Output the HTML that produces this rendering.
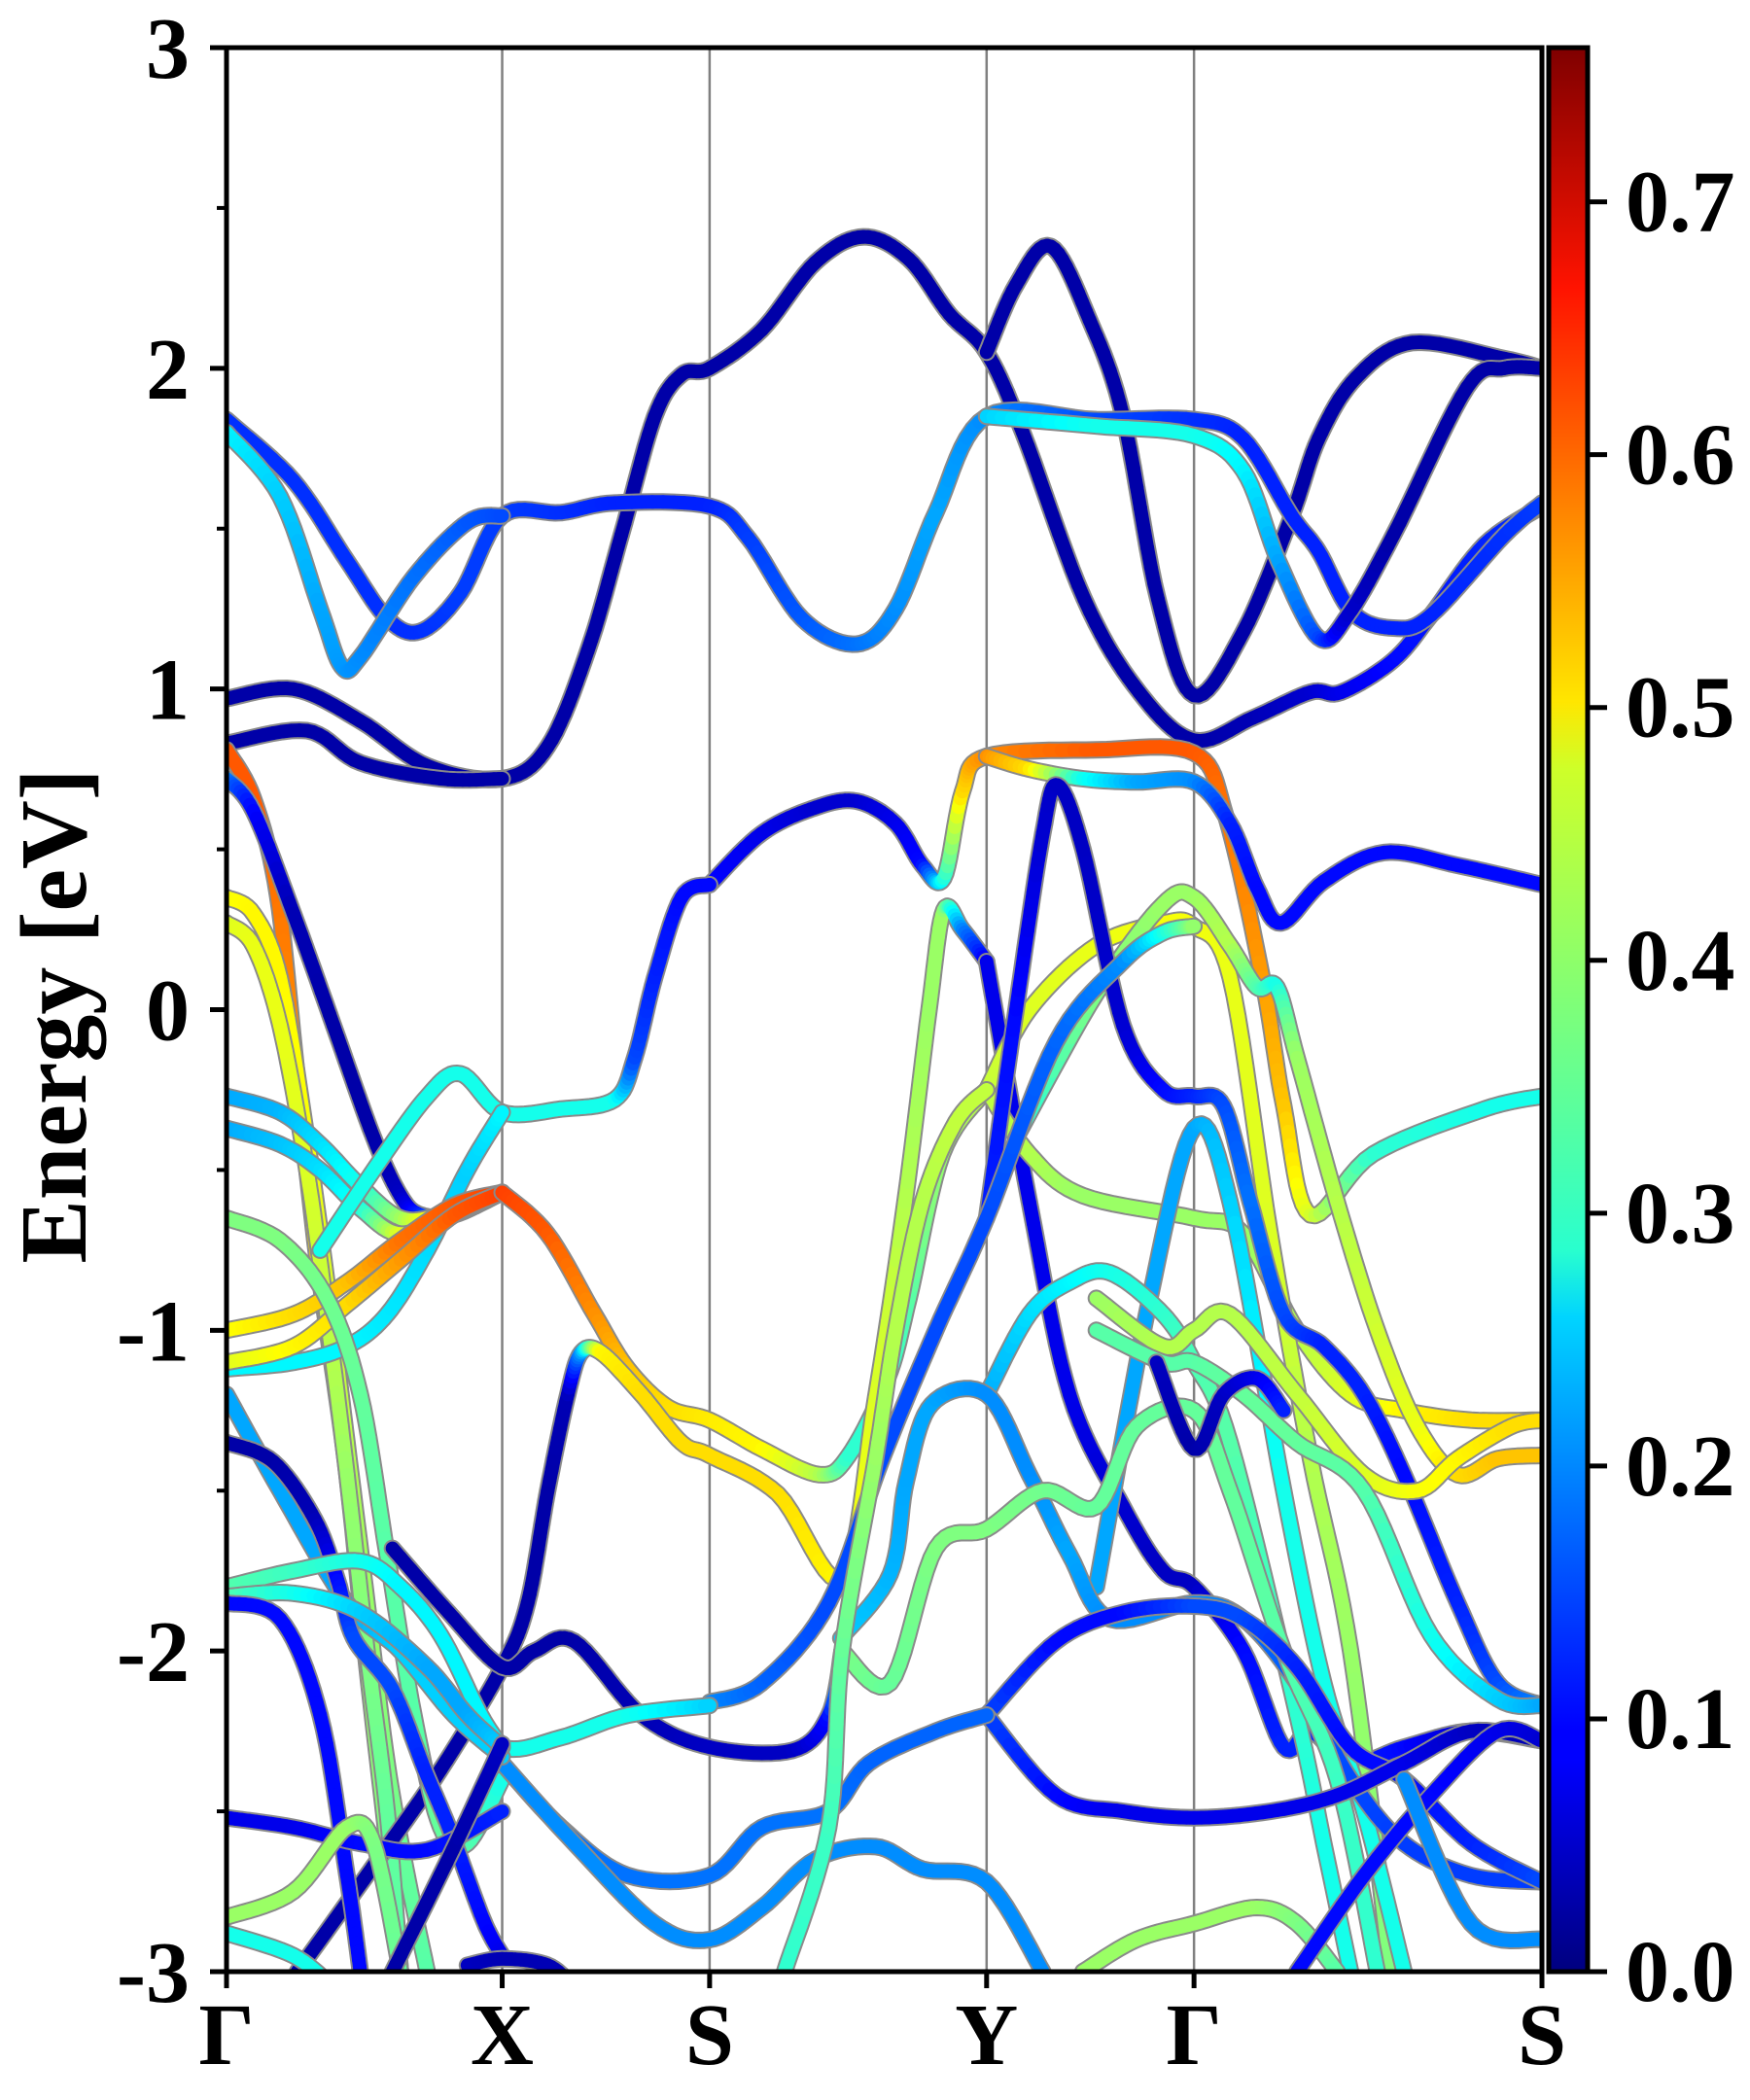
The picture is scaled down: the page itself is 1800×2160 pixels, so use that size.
<!DOCTYPE html>
<html><head><meta charset="utf-8"><title>Band structure</title>
<style>
html,body{margin:0;padding:0;background:#fff;}
svg{display:block;font-family:"Liberation Serif","Times New Roman",serif;font-weight:bold;}
svg text{font-family:"Liberation Serif","Times New Roman",serif;font-weight:700;}
</style></head>
<body>
<svg id="chart" width="1800" height="2160" viewBox="0 0 1800 2160" xmlns="http://www.w3.org/2000/svg">
<defs>
<linearGradient id="jet" x1="0" y1="1" x2="0" y2="0">
<stop offset="0" stop-color="#00007f"/><stop offset="0.11" stop-color="#0000ff"/>
<stop offset="0.125" stop-color="#0000ff"/><stop offset="0.34" stop-color="#00d4ff"/>
<stop offset="0.375" stop-color="#29ffce"/><stop offset="0.5" stop-color="#7dff7a"/>
<stop offset="0.625" stop-color="#ceff29"/><stop offset="0.66" stop-color="#ffe600"/>
<stop offset="0.875" stop-color="#ff1300"/><stop offset="1" stop-color="#7f0000"/>
</linearGradient>
<clipPath id="plotclip"><rect x="233" y="49" width="1353" height="1979"/></clipPath>
</defs>
<g id="bands" clip-path="url(#plotclip)"></g>
<g id="axes"></g>
</svg>
<script>
// ---- data ----
var kNodes = [0, 2.06, 3.61, 5.68, 7.23, 9.83];
var kLabels = ["Γ", "X", "S", "Y", "Γ", "S"];
var yTicks = [3, 2, 1, 0, -1, -2, -3];
var yTickLabels = ["3", "2", "1", "0", "-1", "-2", "-3"];
var cbTicks = [0.0, 0.1, 0.2, 0.3, 0.4, 0.5, 0.6, 0.7];
var cbTickLabels = ["0.0", "0.1", "0.2", "0.3", "0.4", "0.5", "0.6", "0.7"];
var wMax = 0.761;
// each strand: [k, energy(eV), weight]
var band01 = [[0,0.97,.03],[0.5,1.0,.03],[1.0,0.9,.03],[1.5,0.76,.03],[2.06,0.72,.03],[2.4,0.82,.03],[2.7,1.12,.03],[2.95,1.48,.03],[3.2,1.85,.03],[3.4,1.98,.03],[3.61,2.0,.03],[4.0,2.12,.03],[4.4,2.33,.03],[4.76,2.41,.03],[5.1,2.34,.03],[5.4,2.17,.03],[5.68,2.05,.03],[5.95,1.8,.03],[6.41,1.28,.03],[6.82,0.99,.03],[7.23,0.84,.03],[7.67,0.91,.04],[8.1,0.99,.06],[8.33,0.99,.08],[8.72,1.09,.1],[9.0,1.23,.11],[9.4,1.45,.12],[9.83,1.57,.13]];
var band02 = [[0,0.83,.03],[0.6,0.87,.03],[1.0,0.77,.03],[1.6,0.72,.03],[2.06,0.72,.03]];
var band03 = [[5.68,2.05,.03],[5.9,2.26,.03],[6.16,2.38,.03],[6.45,2.15,.03],[6.7,1.85,.03],[6.96,1.28,.03],[7.23,0.98,.03],[7.6,1.18,.03],[7.96,1.54,.03],[8.16,1.78,.03],[8.44,1.97,.03],[8.86,2.08,.03],[9.55,2.03,.03],[9.83,2.0,.03]];
var band04 = [[0,1.84,.13],[0.5,1.65,.13],[0.9,1.4,.13],[1.2,1.22,.13],[1.45,1.18,.13],[1.75,1.3,.14],[2.06,1.54,.14],[2.5,1.55,.13],[2.9,1.58,.12],[3.61,1.57,.12],[3.9,1.47,.14],[4.3,1.22,.16],[4.71,1.14,.18],[5.0,1.25,.2],[5.3,1.55,.22],[5.68,1.85,.2],[6.5,1.84,.15],[7.23,1.84,.13],[7.6,1.78,.12],[7.96,1.54,.12],[8.16,1.43,.12],[8.41,1.24,.12],[8.72,1.19,.12],[9.0,1.23,.12],[9.55,1.48,.13],[9.83,1.58,.14]];
var band05 = [[0,1.80,.28],[0.4,1.6,.25],[0.7,1.25,.22],[0.86,1.07,.21],[1.0,1.1,.2],[1.4,1.35,.18],[1.8,1.52,.16],[2.06,1.54,.15]];
var band06 = [[5.68,1.85,.25],[6.5,1.82,.3],[7.23,1.79,.3],[7.6,1.68,.28],[7.86,1.4,.22],[8.16,1.16,.15],[8.38,1.23,.06],[8.72,1.48,.03],[9.27,1.94,.03],[9.55,2.0,.03],[9.83,2.0,.03]];
var band07 = [[3.61,0.39,.1],[4.0,0.55,.08],[4.4,0.63,.06],[4.71,0.65,.06],[5.0,0.58,.08],[5.2,0.45,.1],[5.36,0.41,.3],[5.5,0.68,.5],[5.68,0.79,.56],[6.5,0.81,.6],[7.23,0.8,.6],[7.47,0.6,.58],[7.74,0.1,.55],[7.9,-0.3,.52],[8.1,-0.64,.45],[8.57,-0.45,.32],[9.4,-0.31,.3],[9.83,-0.27,.3]];
var band08 = [[5.68,0.79,.56],[6.0,0.75,.5],[6.4,0.72,.3],[6.8,0.71,.22],[7.23,0.71,.2],[7.5,0.58,.12],[7.7,0.38,.1],[7.88,0.27,.1],[8.2,0.4,.1],[8.65,0.49,.1],[9.2,0.45,.1],[9.83,0.39,.1]];
var band09 = [[0,0.81,.6],[0.2,0.66,.6],[0.38,0.36,.58],[0.52,-0.18,.56],[0.66,-0.72,.5],[0.77,-1.05,.47],[0.9,-1.45,.45],[1.05,-2.05,.4],[1.2,-2.6,.38],[1.3,-3.0,.36]];
var band10 = [[0,0.72,.2],[0.2,0.62,.1],[0.5,0.3,.04],[0.8,-0.05,.03],[1.1,-0.4,.03],[1.3,-0.58,.05],[1.45,-0.64,.12],[1.7,-0.64,.3],[2.06,-0.57,.55]];
var band11 = [[0,0.35,.47],[0.2,0.3,.48],[0.4,0.1,.48],[0.6,-0.4,.47],[0.75,-0.85,.45],[0.9,-1.35,.42],[1.05,-1.85,.4],[1.2,-2.35,.38],[1.35,-2.7,.36],[1.5,-3.0,.35]];
var band12 = [[0,0.27,.45],[0.2,0.2,.46],[0.4,-0.05,.46],[0.6,-0.5,.45],[0.75,-0.95,.43],[0.9,-1.45,.4],[1.05,-2.0,.38],[1.2,-2.5,.36],[1.3,-3.0,.35]];
var band13 = [[0,-0.27,.22],[0.4,-0.32,.23],[0.7,-0.42,.26],[1.0,-0.55,.3],[1.3,-0.65,.4],[1.6,-0.64,.5],[2.06,-0.57,.6]];
var band14 = [[0,-0.37,.22],[0.4,-0.42,.24],[0.7,-0.5,.26],[1.0,-0.62,.3],[1.3,-0.7,.45],[1.7,-0.64,.55],[2.06,-0.57,.6]];
var band15 = [[0.7,-0.75,.3],[1.1,-0.5,.3],[1.5,-0.27,.3],[1.75,-0.2,.3],[2.06,-0.32,.3],[2.5,-0.31,.3],[2.9,-0.28,.3],[3.05,-0.15,.15],[3.2,0.1,.12],[3.4,0.35,.1],[3.61,0.39,.1]];
var band16 = [[0,-1.12,.28],[0.5,-1.1,.28],[0.9,-1.05,.28],[1.2,-0.95,.27],[1.5,-0.75,.26],[1.8,-0.5,.25],[2.06,-0.32,.28]];
var band17 = [[0,-1.0,.47],[0.5,-0.95,.5],[0.9,-0.85,.52],[1.3,-0.72,.58],[1.7,-0.61,.6],[2.06,-0.57,.62]];
var band18 = [[0,-1.1,.45],[0.5,-1.05,.48],[0.9,-0.92,.5],[1.3,-0.78,.55],[1.7,-0.64,.6],[2.06,-0.57,.62]];
var band19 = [[2.06,-0.57,.62],[2.4,-0.7,.6],[2.75,-0.95,.56],[3.0,-1.12,.52],[3.3,-1.24,.5],[3.61,-1.28,.49],[4.0,-1.37,.48],[4.43,-1.45,.42],[4.65,-1.39,.32],[4.94,-1.15,.32],[5.1,-0.9,.35],[5.35,-0.45,.4],[5.68,-0.25,.43]];
var band20 = [[0.53,-3.0,.03],[1.15,-2.64,.03],[1.6,-2.37,.03],[2.06,-2.05,.03],[2.25,-1.85,.03],[2.4,-1.5,.03],[2.55,-1.2,.04],[2.65,-1.07,.2],[2.8,-1.07,.48],[3.1,-1.2,.5],[3.4,-1.35,.5],[3.61,-1.39,.5],[4.12,-1.51,.5],[4.6,-1.77,.48],[4.85,-1.21,.45],[5.07,-0.6,.42],[5.25,0.0,.4],[5.36,0.31,.4],[5.5,0.25,.2],[5.68,0.15,.08]];
var band21 = [[0,-0.65,.38],[0.4,-0.72,.38],[0.75,-0.9,.37],[1.0,-1.2,.36],[1.2,-1.7,.35],[1.4,-2.2,.35],[1.6,-2.55,.36],[1.8,-2.6,.35],[2.06,-2.4,.3]];
var band22 = [[5.68,0.15,.08],[6.0,-0.6,.08],[6.3,-1.2,.08],[6.7,-1.55,.06],[7.0,-1.75,.05],[7.23,-1.8,.05],[7.6,-2.0,.1],[7.9,-2.3,.12],[8.1,-2.25,.12],[8.4,-2.35,.12],[8.8,-2.3,.1],[9.3,-2.25,.06],[9.83,-2.28,.04]];
var band23 = [[5.68,-0.25,.43],[6.0,-0.45,.42],[6.4,-0.58,.4],[7.23,-0.65,.4],[7.6,-0.7,.4],[8.0,-1.0,.42],[8.4,-1.2,.45],[8.8,-1.25,.48],[9.3,-1.28,.5],[9.83,-1.28,.5]];
var band24 = [[5.68,-0.25,.43],[6.0,0.0,.45],[6.5,0.2,.46],[7.0,0.27,.47],[7.23,0.26,.47],[7.5,0.1,.46],[7.8,-0.7,.45],[8.1,-1.4,.42],[8.4,-2.0,.4],[8.7,-3.0,.38]];
var band25 = [[5.9,-0.4,.3],[6.5,0.05,.38],[7.0,0.33,.4],[7.23,0.35,.4],[7.5,0.2,.42],[7.7,0.07,.35],[7.85,0.07,.3],[8.0,-0.15,.4],[8.3,-0.6,.42],[8.6,-1.0,.44],[8.9,-1.3,.46],[9.2,-1.45,.5],[9.5,-1.4,.52],[9.83,-1.39,.52]];
var band26 = [[5.68,-0.65,.12],[5.9,0.0,.1],[6.1,0.55,.06],[6.21,0.7,.05],[6.4,0.5,.05],[6.7,-0.05,.06],[7.0,-0.25,.1],[7.23,-0.27,.12],[7.45,-0.3,.15],[7.65,-0.6,.18],[7.9,-0.95,.15],[8.2,-1.05,.12],[8.5,-1.2,.12],[8.8,-1.45,.1],[9.2,-1.85,.12],[9.5,-2.1,.15],[9.83,-2.17,.2]];
var band27 = [[3.61,-2.16,.2],[4.0,-2.1,.17],[4.5,-1.85,.15],[4.9,-1.4,.15],[5.3,-1.0,.15],[5.68,-0.65,.15],[6.2,-0.1,.17],[6.7,0.15,.2],[7.0,0.24,.3],[7.23,0.26,.4]];
var band28 = [[6.5,-1.8,.22],[6.9,-0.9,.22],[7.23,-0.37,.22],[7.5,-0.6,.25],[7.9,-1.5,.3],[8.2,-2.1,.3],[8.5,-2.5,.3],[8.8,-3.0,.3]];
var band29 = [[5.68,-1.2,.22],[6.0,-0.95,.26],[6.3,-0.85,.28],[6.6,-0.82,.3],[7.0,-0.95,.32],[7.23,-1.1,.34],[7.5,-1.35,.35],[8.0,-2.2,.32],[8.2,-2.6,.3],[8.4,-3.0,.3]];
var band30 = [[4.59,-1.96,.25],[4.96,-1.76,.23],[5.08,-1.47,.22],[5.27,-1.23,.22],[5.68,-1.2,.2],[6.0,-1.45,.2],[6.3,-1.7,.22],[6.6,-1.9,.2],[7.23,-1.85,.2],[7.6,-1.9,.18],[8.0,-2.1,.16],[8.4,-2.4,.15],[8.8,-2.6,.14],[9.3,-2.7,.14],[9.83,-2.72,.14]];
var band31 = [[4.6,-2.0,.38],[4.96,-2.1,.36],[5.3,-1.68,.38],[5.68,-1.62,.38],[6.1,-1.5,.37],[6.5,-1.55,.36],[6.8,-1.3,.36],[7.23,-1.25,.36],[7.5,-1.5,.36],[7.9,-2.0,.35],[8.3,-2.4,.33],[8.6,-3.0,.32]];
var band32 = [[6.5,-0.9,.4],[7.0,-1.05,.42],[7.23,-1.0,.42],[7.5,-0.95,.42],[8.0,-1.2,.43],[8.5,-1.45,.45],[8.9,-1.5,.47],[9.2,-1.4,.48],[9.6,-1.3,.5],[9.83,-1.28,.5]];
var band33 = [[6.5,-1.0,.35],[7.0,-1.1,.35],[7.23,-1.1,.35],[7.6,-1.2,.36],[8.0,-1.35,.36],[8.5,-1.5,.35],[9.0,-1.95,.3],[9.5,-2.15,.25],[9.83,-2.17,.22]];
var band34 = [[6.95,-1.1,.05],[7.23,-1.37,.03],[7.45,-1.2,.05],[7.7,-1.15,.08],[7.9,-1.25,.12]];
var band35 = [[5.68,-2.2,.15],[6.2,-1.97,.1],[6.7,-1.88,.1],[7.23,-1.86,.15],[7.6,-1.9,.15],[8.0,-2.05,.12],[8.4,-2.3,.1],[8.8,-2.4,.1],[9.3,-2.6,.12],[9.83,-2.72,.15]];
var band36 = [[5.68,-2.2,.15],[6.2,-2.45,.1],[6.7,-2.5,.08],[7.23,-2.52,.08],[7.8,-2.5,.08],[8.3,-2.45,.08],[8.8,-2.35,.08],[9.3,-2.25,.05],[9.83,-2.28,.04]];
var band37 = [[2.06,-2.35,.18],[2.5,-2.55,.18],[3.0,-2.7,.18],[3.61,-2.7,.18],[4.0,-2.55,.18],[4.5,-2.5,.18],[4.8,-2.35,.17],[5.3,-2.25,.17],[5.68,-2.2,.17]];
var band38 = [[2.06,-2.35,.2],[2.6,-2.6,.2],[3.2,-2.85,.2],[3.61,-2.9,.2],[4.0,-2.8,.2],[4.4,-2.65,.2],[4.85,-2.61,.2],[5.2,-2.68,.2],[5.68,-2.72,.2],[6.1,-3.0,.2]];
var band39 = [[1.24,-1.68,.03],[1.66,-1.88,.03],[2.06,-2.05,.03],[2.3,-2.0,.03],[2.6,-1.97,.03],[3.1,-2.2,.04],[3.61,-2.3,.05],[4.23,-2.31,.05],[4.5,-2.2,.1],[4.6,-2.0,.3]];
var band40 = [[1.3,-2.0,.3],[1.7,-2.15,.3],[2.06,-2.3,.3],[2.5,-2.27,.3],[3.0,-2.2,.3],[3.61,-2.17,.25]];
var band41 = [[0,-1.2,.22],[0.4,-1.5,.22],[0.9,-1.85,.22],[1.3,-2.0,.25],[1.7,-2.2,.25],[2.06,-2.33,.25]];
var band42 = [[0,-1.35,.03],[0.35,-1.41,.03],[0.66,-1.59,.04],[0.83,-1.78,.1],[0.95,-1.96,.15],[1.24,-2.12,.15],[1.48,-2.37,.12],[1.68,-2.57,.12],[1.92,-2.84,.1],[2.06,-2.95,.08]];
var band43 = [[0,-1.8,.35],[0.5,-1.75,.33],[1.0,-1.72,.3],[1.3,-1.8,.28],[1.6,-1.95,.28],[1.9,-2.2,.28],[2.06,-2.3,.28]];
var band44 = [[0,-1.83,.35],[0.5,-1.82,.3],[1.0,-1.88,.25],[1.5,-2.05,.22],[1.8,-2.2,.22],[2.06,-2.3,.25]];
var band45 = [[0,-1.85,.1],[0.4,-1.9,.1],[0.7,-2.2,.1],[0.9,-2.7,.1],[1.0,-3.0,.1]];
var band46 = [[0,-2.52,.08],[0.5,-2.55,.08],[1.0,-2.6,.1],[1.5,-2.62,.1],[2.06,-2.5,.12]];
var band47 = [[0,-2.83,.4],[0.5,-2.75,.4],[0.9,-2.55,.4],[1.1,-2.6,.38],[1.3,-3.0,.36]];
var band48 = [[0,-2.88,.3],[0.5,-2.95,.3],[0.8,-3.05,.3]];
var band49 = [[1.24,-3.0,.03],[1.69,-2.62,.03],[2.06,-2.29,.05]];
var band50 = [[1.8,-2.98,.05],[2.06,-2.96,.04],[2.4,-2.98,.04],[2.6,-3.05,.04]];
var band51 = [[6.4,-3.0,.4],[6.8,-2.9,.4],[7.23,-2.85,.4],[7.7,-2.8,.4],[8.0,-2.85,.38],[8.3,-3.0,.35]];
var band52 = [[8.0,-3.0,.1],[8.5,-2.7,.1],[9.0,-2.45,.1],[9.5,-2.25,.08],[9.83,-2.28,.06]];
var band53 = [[8.8,-2.4,.2],[9.3,-2.85,.2],[9.83,-2.9,.2]];
var band54 = [[4.17,-3.0,.32],[4.5,-2.55,.33],[4.6,-2.0,.36],[4.85,-1.4,.4],[5.0,-1.0,.42],[5.2,-0.6,.42],[5.45,-0.35,.43],[5.68,-0.25,.43]];
var bands = [band01,band02,band03,band04,band05,band06,band07,band08,band09,band10,band11,band12,band13,band14,band15,band16,band17,band18,band19,band20,band21,band22,band23,band24,band25,band26,band27,band28,band29,band30,band31,band32,band33,band34,band35,band36,band37,band38,band39,band40,band41,band42,band43,band44,band45,band46,band47,band48,band49,band50,band51,band52,band53,band54];

// ---- geometry ----
var PL=233, PR=1586, PT=49, PB=2028;
var kMax = kNodes[kNodes.length-1];
function xS(k){return PL + k/kMax*(PR-PL);}
function yS(e){return PT + (3-e)/6*(PB-PT);}
var CBL=1593, CBR=1633;
function cbY(v){return PB - v/wMax*(PB-PT);}
function jet(v){
  var t=Math.max(0,Math.min(1,v/wMax));
  function c(x){return Math.max(0,Math.min(1,x));}
  var r=c(1.5-Math.abs(4*t-3)), g=c(1.5-Math.abs(4*t-2)), b=c(1.5-Math.abs(4*t-1));
  return "rgb("+Math.round(r*255)+","+Math.round(g*255)+","+Math.round(b*255)+")";
}
var NS="http://www.w3.org/2000/svg";
var FONT='"Liberation Serif","Times New Roman",serif';
function mk(tag,attrs,parent){var e=document.createElementNS(NS,tag);for(var a in attrs)e.setAttribute(a,attrs[a]);parent.appendChild(e);return e;}
var gB=document.getElementById('bands'), gA=document.getElementById('axes');

for(var i=1;i<kNodes.length-1;i++){
  var vl=mk('line',{x1:xS(kNodes[i]),x2:xS(kNodes[i]),y1:PT,y2:PB,stroke:'#808080','stroke-width':2.5},gB);
  
  
}
function smooth(pts){
  var out=[];
  for(var i=0;i<pts.length-1;i++){
    var p0=pts[Math.max(0,i-1)],p1=pts[i],p2=pts[i+1],p3=pts[Math.min(pts.length-1,i+2)];
    var n=10;
    for(var s=0;s<n;s++){
      var t=s/n,t2=t*t,t3=t2*t;
      var cr=function(a,b,c,d){return 0.5*((2*b)+(-a+c)*t+(2*a-5*b+4*c-d)*t2+(-a+3*b-3*c+d)*t3);};
      out.push([cr(p0[0],p1[0],p2[0],p3[0]),cr(p0[1],p1[1],p2[1],p3[1]),p1[2]+(p2[2]-p1[2])*t]);
    }
  }
  out.push(pts[pts.length-1]);
  return out;
}
bands.forEach(function(b,bi){
  var sp=smooth(b);
  var g=mk('g',{},gB);
  
  
  var d=sp.map(function(p,i){return (i?'L':'M')+xS(p[0]).toFixed(1)+','+yS(p[1]).toFixed(1);}).join('');
  mk('path',{d:d,fill:'none',stroke:'#8a8a8a','stroke-width':18,'stroke-linejoin':'round','stroke-linecap':'round'},g);
  for(var i=0;i<sp.length-1;i++){
    var w=(sp[i][2]+sp[i+1][2])/2;
    mk('line',{x1:xS(sp[i][0]).toFixed(1),y1:yS(sp[i][1]).toFixed(1),x2:xS(sp[i+1][0]).toFixed(1),y2:yS(sp[i+1][1]).toFixed(1),stroke:jet(w),'stroke-width':14,'stroke-linecap':'round'},g);
  }
});

var fr=mk('rect',{x:PL,y:PT,width:PR-PL,height:PB-PT,fill:'none',stroke:'#000','stroke-width':5},gA);


yTicks.forEach(function(v,i){
  var t=mk('line',{x1:PL-17,x2:PL,y1:yS(v),y2:yS(v),stroke:'#000','stroke-width':5},gA);
  
  
  var tx=mk('text',{x:PL-38,y:yS(v)+31,'text-anchor':'end','font-size':90,'font-family':FONT,'font-weight':'bold'},gA);
  tx.textContent=yTickLabels[i];
  
  
  if(i<yTicks.length-1){
    var m=mk('line',{x1:PL-10,x2:PL,y1:yS(v-0.5),y2:yS(v-0.5),stroke:'#000','stroke-width':4},gA);
    
    
  }
});
kNodes.forEach(function(k,i){
  var t=mk('line',{x1:xS(k),x2:xS(k),y1:PB,y2:PB+17,stroke:'#000','stroke-width':5},gA);
  
  
  var tx=mk('text',{x:xS(k),y:2123,'text-anchor':'middle','font-size':90,'font-family':FONT,'font-weight':'bold'},gA);
  tx.textContent=kLabels[i];
  
  
});
var yt=mk('text',{x:0,y:0,'text-anchor':'middle','font-size':98,'font-family':FONT,'font-weight':'bold',transform:'translate(88,1045) rotate(-90)'},gA);
yt.textContent='Energy [eV]';


var cb=mk('rect',{x:CBL,y:PT,width:CBR-CBL,height:PB-PT,fill:'url(#jet)',stroke:'#000','stroke-width':5},gA);


cbTicks.forEach(function(v,i){
  var t=mk('line',{x1:CBR,x2:CBR+20,y1:cbY(v),y2:cbY(v),stroke:'#000','stroke-width':5},gA);
  
  
  var tx=mk('text',{x:1672,y:cbY(v)+30,'text-anchor':'start','font-size':90,'font-family':FONT,'font-weight':'bold'},gA);
  tx.textContent=cbTickLabels[i];
  
  
});
</script>
</body></html>
